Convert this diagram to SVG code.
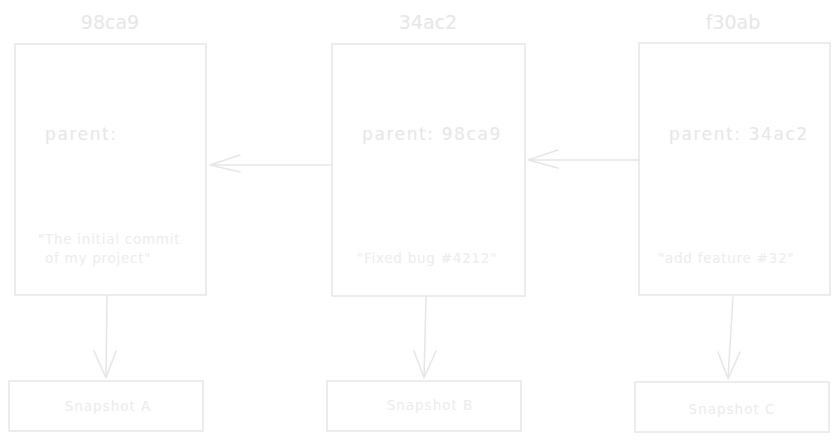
<svg xmlns="http://www.w3.org/2000/svg" width="840" height="441" viewBox="0 0 840 441">
<style>
.box{fill:none;stroke:#e6e6e6;stroke-width:1.5}
.ln{fill:none;stroke:#e6e6e6;stroke-width:1.5;stroke-linecap:round;stroke-linejoin:round}
.t{font-family:"DejaVu Sans","Liberation Sans",sans-serif;fill:#e6e6e6}
.h{font-size:19px;text-anchor:middle}
.p{font-size:17px;letter-spacing:1.6px}
.m{font-size:13.5px;fill:#ececec;letter-spacing:0.75px}
.s{font-size:13.5px;text-anchor:middle;fill:#ebebeb;letter-spacing:1px}
</style>
<rect width="840" height="441" fill="#ffffff"/>
<g id="commit-98ca9">
<text class="t h" x="110" y="29">98ca9</text>
<rect class="box" x="15" y="44" width="191" height="251"/>
<text class="t p" x="45" y="140">parent:</text>
<text class="t m" x="38" y="244">"The initial commit</text>
<text class="t m" x="45" y="263">of my project"</text>
</g>
<g id="commit-34ac2">
<text class="t h" x="428" y="29">34ac2</text>
<rect class="box" x="332" y="44" width="193" height="252"/>
<text class="t p" x="362" y="140">parent: 98ca9</text>
<text class="t m" x="357" y="263">"Fixed bug #4212"</text>
</g>
<g id="commit-f30ab">
<text class="t h" x="733" y="29">f30ab</text>
<rect class="box" x="639" y="43" width="191" height="252"/>
<text class="t p" x="669" y="140">parent: 34ac2</text>
<text class="t m" x="658" y="263">"add feature #32"</text>
</g>
<g id="snapshot-a">
<rect class="box" x="9" y="381" width="194" height="50"/>
<text class="t s" x="108" y="411">Snapshot A</text>
</g>
<g id="snapshot-b">
<rect class="box" x="327" y="381" width="194" height="50"/>
<text class="t s" x="430" y="410">Snapshot B</text>
</g>
<g id="snapshot-c">
<rect class="box" x="635" y="382" width="194" height="50"/>
<text class="t s" x="732" y="414">Snapshot C</text>
</g>
<g id="connectors">
<path class="ln" d="M332 165 L210 165 M240 155 L210 165 L240 172"/>
<path class="ln" d="M639 160 L528 160 M558 150 L528 160 L558 168"/>
<path class="ln" d="M107 296 L106 378 M94 351 L106 378 M116 351 L106 378"/>
<path class="ln" d="M426 297 L424 378 M414 351 L424 378 M436 351 L424 378"/>
<path class="ln" d="M733 297 L728 379 M718 352 L728 379 M740 352 L728 379"/>
</g>
</svg>
